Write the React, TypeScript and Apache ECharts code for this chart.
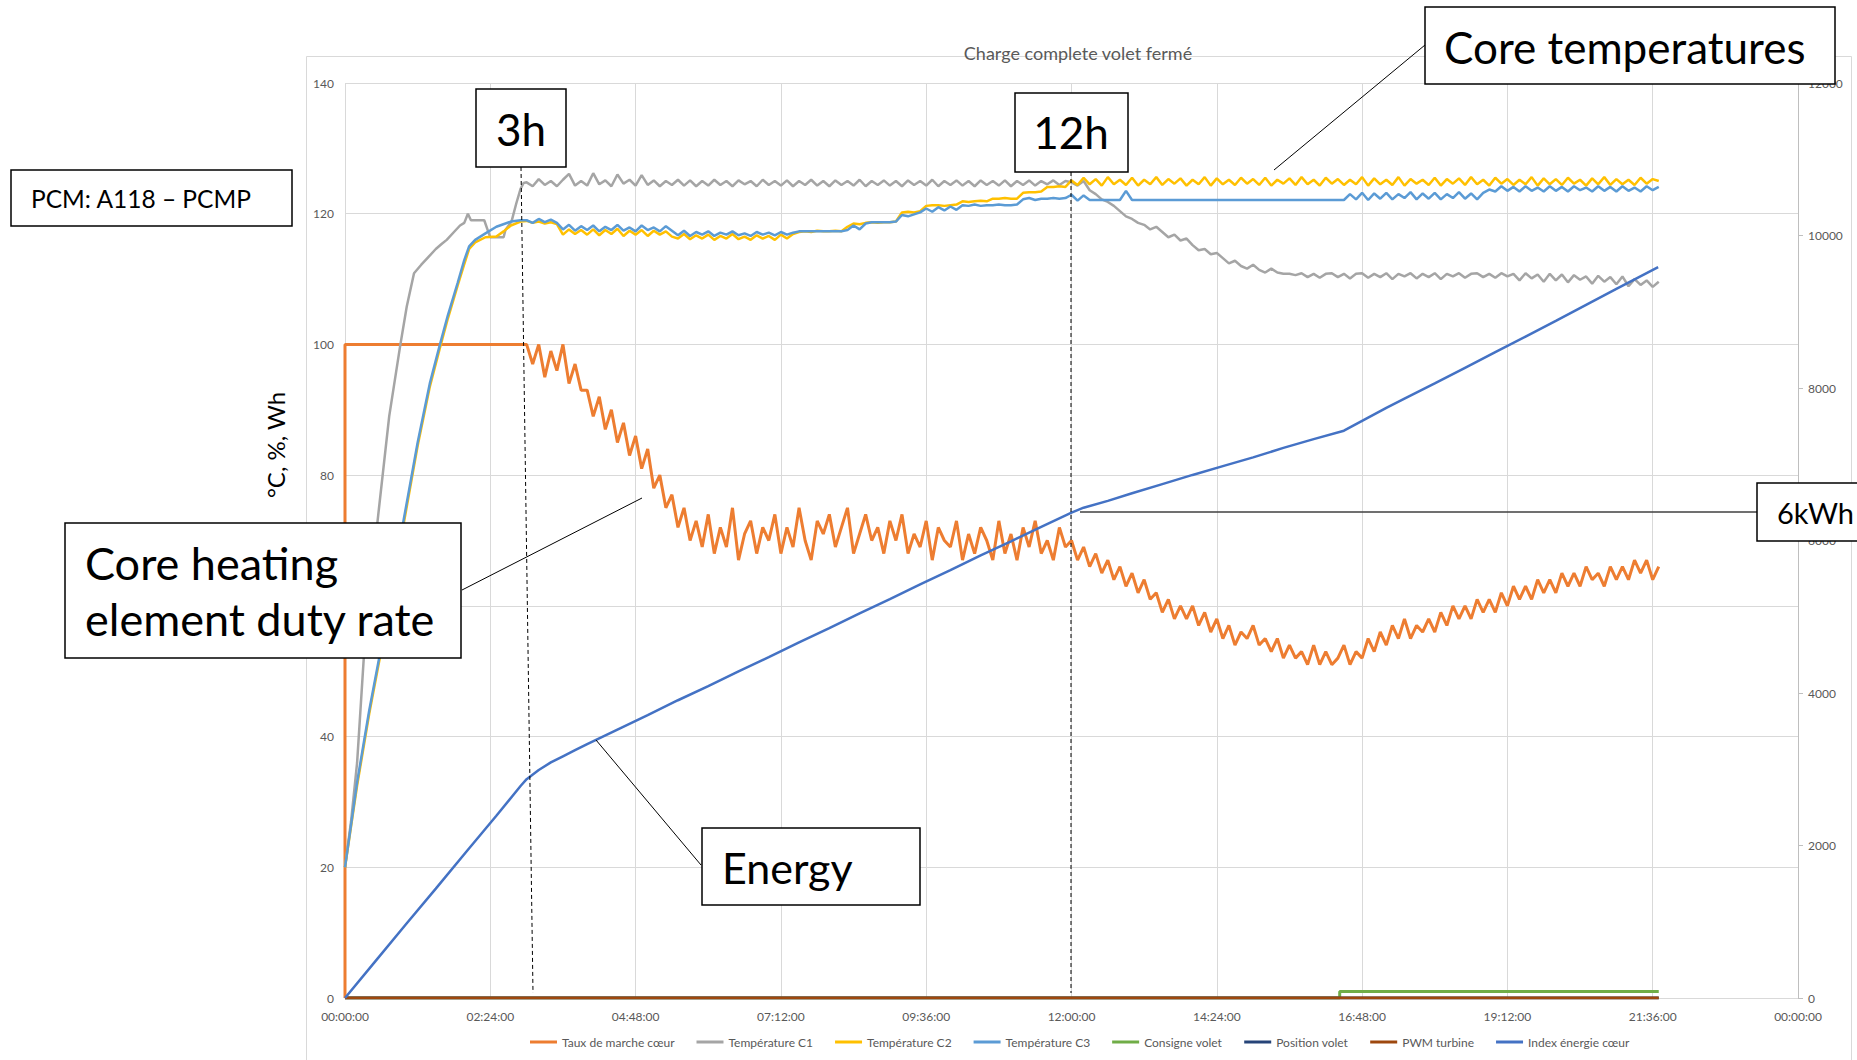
import React, { useEffect, useRef } from "react";
import * as echarts from "echarts";

// ---------- texts ----------
const TITLE = "Charge complete volet fermé";
const Y_NAME = "°C, %, Wh";
const X_TICK_LABELS = [
  "00:00:00", "02:24:00", "04:48:00", "07:12:00", "09:36:00", "12:00:00",
  "14:24:00", "16:48:00", "19:12:00", "21:36:00", "00:00:00",
];
const SERIES_NAMES = [
  "Taux de marche cœur", "Température C1", "Température C2", "Température C3",
  "Consigne volet", "Position volet", "PWM turbine", "Index énergie cœur",
];
const SERIES_COLORS = ["#ED7D31", "#A5A5A5", "#FFC000", "#5B9BD5", "#70AD47", "#264478", "#9E480E", "#4472C4"];

// ---------- data (time in hours) ----------
// noisy part of each record is sampled every 0.1 h from 3.0 h to 21.7 h
const NOISE_START = 3.0;
const NOISE_STEP = 0.1;

// Taux de marche cœur (%)
const dutyHead: [number, number][] = [[0, 0], [0, 100], [2.95, 100]];
const dutyNoisy = [
  100, 97, 100, 95, 99, 96, 100, 94, 97, 93,
  93, 89, 92, 87, 90, 85, 88, 83, 86, 81,
  84, 78, 80, 75, 77, 72, 75, 70, 73, 69,
  74, 68, 72, 69, 75, 67, 71, 73, 68, 72,
  70, 74, 68, 72, 69, 75, 70, 67, 73, 71,
  74, 69, 72, 75, 68, 71, 74, 70, 72, 68,
  73, 70, 74, 68, 71, 69, 73, 67, 72, 70,
  69, 73, 67, 71, 68, 72, 70, 67, 73, 68,
  71, 67, 72, 69, 73, 68, 70, 67, 72, 69,
  70, 67, 69, 66, 68, 65, 67, 64, 66, 63,
  65, 62, 64, 61, 62, 59, 61, 58, 60, 58,
  60, 57, 59, 56, 58, 55, 57, 54, 56, 55,
  57, 54, 55, 53, 55, 52, 54, 52, 53, 51,
  54, 51, 53, 51, 52, 54, 51, 53, 52, 55,
  53, 56, 54, 57, 55, 58, 55, 57, 56, 58,
  56, 59, 57, 60, 58, 60, 58, 61, 59, 61,
  59, 62, 60, 63, 61, 63, 61, 64, 62, 64,
  62, 65, 63, 65, 63, 66, 64, 65, 63, 66,
  64, 66, 64, 67, 65, 67, 64, 66,
];

// Température C1 (°C)
const c1Head: [number, number][] = [
  [0, 20], [0.1, 27], [0.2, 36], [0.31, 52], [0.42, 63], [0.55, 74], [0.73, 89], [0.91, 99.7],
  [1.02, 105.8], [1.14, 110.9], [1.26, 112.2], [1.38, 113.4], [1.5, 114.6], [1.6, 115.4],
  [1.68, 116], [1.8, 117.2], [1.9, 118.2], [1.97, 118.6], [2.03, 120], [2.08, 119], [2.3, 119],
  [2.36, 117.4], [2.4, 116.4], [2.62, 116.4], [2.65, 117.5], [2.75, 118.8], [2.83, 121.6],
  [2.9, 123.8], [2.95, 124.7],
];
const c1Noisy = [
  124.8, 124.2, 125.3, 124.4, 125.0, 124.2, 125.2, 126.1, 124.3, 125.0,
  124.3, 126.2, 124.5, 125.1, 124.2, 126.0, 124.6, 125.2, 124.3, 125.9,
  124.4, 125.1, 124.2, 125.0, 124.4, 125.2, 124.3, 125.1, 124.2, 125.0,
  124.3, 125.2, 124.4, 125.0, 124.2, 125.1, 124.5, 125.0, 124.2, 125.2,
  124.4, 125.0, 124.3, 125.1, 124.2, 125.0, 124.4, 125.2, 124.3, 125.0,
  124.2, 125.1, 124.4, 125.0, 124.3, 125.2, 124.2, 125.0, 124.4, 125.1,
  124.3, 125.0, 124.2, 125.1, 124.4, 125.0, 124.3, 125.2, 124.2, 125.0,
  124.4, 125.1, 124.3, 125.0, 124.2, 125.1, 124.4, 125.0, 124.3, 125.1,
  124.2, 125.0, 124.4, 125.1, 124.3, 125.0, 124.5, 125.1, 124.4, 125.0,
  124.8, 124.3, 125.0, 123.6, 123.0, 122.2, 121.8, 121.2, 120.4, 119.6,
  119.2, 118.6, 118.3, 117.6, 118.0, 117.2, 116.4, 116.8, 115.9, 116.2,
  115.2, 114.4, 114.6, 113.8, 114.0, 113.2, 112.4, 112.8, 112.0, 111.6,
  112.2, 111.4, 111.0, 111.6, 111.0, 110.8, 110.8, 110.6, 110.9, 110.3,
  110.8, 110.2, 110.8, 110.9, 110.3, 110.8, 110.1, 110.8, 110.9, 110.2,
  110.8, 110.3, 110.9, 110.0, 110.8, 110.4, 110.9, 110.1, 110.8, 110.3,
  110.9, 110.0, 110.8, 110.4, 110.9, 110.2, 110.8, 110.9, 110.3, 110.8,
  110.2, 110.9, 110.4, 110.8, 109.8, 110.9, 110.1, 110.7, 109.6, 110.8,
  109.8, 110.7, 109.5, 110.6, 109.9, 110.4, 109.3, 110.5, 109.6, 110.3,
  109.2, 110.4, 108.9, 110.0, 109.1, 109.8, 108.8, 109.6,
];

// Température C2 (°C)
const c2Head: [number, number][] = [
  [0, 20], [0.2, 32.5], [0.4, 43.5], [0.57, 51.8], [0.8, 63.5], [0.97, 72.6], [1.2, 84.5],
  [1.4, 93.5], [1.56, 99.2], [1.7, 104], [1.86, 109], [1.97, 112.3], [2.05, 114.6],
  [2.15, 115.6], [2.32, 116.4], [2.5, 116.5], [2.62, 117.3], [2.74, 118.2], [2.9, 118.8],
];
const c2Noisy = [
  118.9, 118.6, 118.8, 118.5, 118.7, 118.4, 116.8, 117.6, 116.9, 117.5,
  116.8, 117.6, 116.7, 117.5, 116.9, 117.7, 116.6, 117.4, 116.8, 117.5,
  116.6, 117.4, 116.8, 117.3, 116.5, 116.2, 116.9, 116.1, 116.7, 116.2,
  116.8, 116.0, 116.6, 116.2, 116.9, 116.1, 116.5, 116.0, 116.7, 116.2,
  116.6, 116.0, 116.8, 116.2, 116.9, 117.2, 117.3, 117.2, 117.4, 117.3,
  117.3, 117.4, 117.3, 118.0, 118.5, 118.4, 118.6, 118.7, 118.6, 118.7,
  118.7, 118.8, 120.2, 120.3, 120.2, 120.4, 121.2, 121.3, 121.3, 121.2,
  121.3, 121.4, 121.9, 121.8, 121.9, 122.0, 121.9, 122.3, 122.3, 122.4,
  122.3, 122.3, 123.2, 123.3, 123.3, 123.4, 124.1, 124.1, 124.2, 124.1,
  125.1, 124.4, 125.5, 124.5, 125.3, 124.3, 125.6, 124.5, 125.2, 124.4,
  125.5, 124.3, 125.2, 124.5, 125.6, 124.4, 125.3, 124.6, 125.4, 124.3,
  125.2, 124.5, 125.6, 124.3, 125.4, 124.5, 125.2, 124.4, 125.5, 124.6,
  125.3, 124.4, 125.5, 124.3, 125.2, 124.6, 125.4, 124.4, 125.6, 124.5,
  125.2, 124.3, 125.5, 124.6, 125.3, 124.4, 125.2, 124.5, 125.6, 124.3,
  125.4, 124.5, 125.2, 124.4, 125.6, 124.3, 125.3, 124.6, 125.2, 124.4,
  125.5, 124.3, 125.3, 124.6, 125.4, 124.4, 125.6, 124.5, 125.2, 124.3,
  125.5, 124.6, 125.3, 124.4, 125.2, 124.5, 125.6, 124.3, 125.4, 124.5,
  125.3, 124.4, 125.5, 124.6, 125.2, 124.3, 125.4, 124.5, 125.6, 124.4,
  125.3, 124.5, 125.2, 124.4, 125.5, 124.6, 125.3, 125.0,
];

// Température C3 (°C)
const c3Head: [number, number][] = [
  [0, 20], [0.2, 33], [0.4, 44], [0.57, 52.3], [0.8, 64], [0.97, 73.2], [1.2, 85], [1.4, 94],
  [1.56, 99.7], [1.7, 104.5], [1.86, 109.4], [1.97, 112.9], [2.05, 115], [2.15, 116],
  [2.32, 117], [2.5, 118], [2.74, 118.8], [2.9, 119],
];
const c3Noisy = [
  119.0, 118.6, 119.2, 118.7, 119.1, 118.6, 117.6, 118.3, 117.4, 118.1,
  117.5, 118.2, 117.3, 118.0, 117.5, 118.3, 117.4, 117.9, 117.3, 118.2,
  117.5, 117.9, 117.3, 118.1, 117.4, 116.7, 117.4, 116.6, 117.2, 116.8,
  117.3, 116.6, 117.1, 116.8, 117.3, 116.7, 117.0, 116.6, 117.2, 116.8,
  117.1, 116.7, 117.2, 116.8, 117.1, 117.3, 117.3, 117.3, 117.3, 117.3,
  117.3, 117.3, 117.3, 117.5, 118.2, 117.6, 118.5, 118.7, 118.7, 118.7,
  118.7, 118.8, 119.8, 119.6, 119.9, 120.2, 120.8, 120.3, 121.0, 120.5,
  121.1, 120.6, 121.3, 121.2, 121.4, 121.2, 121.3, 121.3, 121.4, 121.3,
  121.3, 121.4, 122.2, 122.4, 122.1, 122.3, 122.3, 122.4, 122.3, 122.4,
  122.9, 122.0, 122.8, 122.1, 122.1, 122.1, 122.1, 122.1, 122.1, 123.5,
  122.1, 122.1, 122.1, 122.1, 122.1, 122.1, 122.1, 122.1, 122.1, 122.1,
  122.1, 122.1, 122.1, 122.1, 122.1, 122.1, 122.1, 122.1, 122.1, 122.1,
  122.1, 122.1, 122.1, 122.1, 122.1, 122.1, 122.1, 122.1, 122.1, 122.1,
  122.1, 122.1, 122.1, 122.1, 122.1, 122.1, 123.0, 122.2, 123.2, 122.1,
  123.1, 122.3, 123.2, 122.2, 123.0, 122.4, 123.3, 122.2, 123.1, 122.3,
  123.2, 122.2, 123.0, 122.4, 123.3, 122.3, 123.1, 122.2, 123.2, 123.7,
  123.4, 124.2, 123.5, 124.1, 123.4, 124.2, 123.5, 124.0, 123.4, 124.2,
  123.5, 124.1, 123.4, 124.2, 123.6, 124.0, 123.4, 124.2, 123.5, 124.1,
  123.4, 124.2, 123.5, 124.0, 123.4, 124.2, 123.6, 124.1,
];

// Consigne volet, Position volet, PWM turbine
const shutterSetpoint: [number, number][] = [[0, 0], [16.43, 0], [16.43, 1], [21.7, 1]];
const shutterPosition: [number, number][] = [[0, 0], [21.7, 0]];
const pwmTurbine: [number, number][] = [[0, 0], [21.7, 0]];

// Index énergie cœur (Wh, right axis)
const energy: [number, number][] = [
  [0, 0], [0.5, 480], [1, 960], [1.5, 1435], [2, 1915], [2.5, 2390], [2.9, 2780], [3.0, 2870],
  [3.2, 2990], [3.4, 3090], [3.6, 3170], [3.8, 3250], [4.0, 3330], [4.5, 3520], [5, 3710],
  [5.5, 3905], [6, 4090], [6.5, 4285], [7, 4470], [7.5, 4665], [8, 4850], [8.5, 5045],
  [9, 5230], [9.5, 5425], [10, 5610], [10.5, 5805], [11, 5990], [11.5, 6180], [12, 6365],
  [12.2, 6430], [12.6, 6520], [13, 6620], [13.5, 6740], [14, 6860], [14.5, 6975], [15, 7090],
  [15.5, 7215], [16, 7330], [16.5, 7440], [16.8, 7570], [17.2, 7740], [17.5, 7860], [18, 8060],
  [18.5, 8265], [19, 8470], [19.5, 8675], [20, 8880], [20.5, 9090], [21, 9300], [21.69, 9585],
];

// ---------- helpers ----------
const withTimes = (vals: number[]): [number, number][] =>
  vals.map((v, i) => [Math.round((NOISE_START + i * NOISE_STEP) * 100) / 100, v]);

const FONT = "Lato";

function lineSeries(idx: number, data: [number, number][], width: number, yAxisIndex = 0) {
  return {
    name: SERIES_NAMES[idx],
    type: "line",
    yAxisIndex,
    data,
    showSymbol: false,
    symbol: "none",
    lineStyle: { color: SERIES_COLORS[idx], width },
    itemStyle: { color: SERIES_COLORS[idx] },
    emphasis: { disabled: true },
  };
}

function box(x: number, y: number, w: number, h: number) {
  return {
    type: "rect",
    silent: true,
    z: 100,
    shape: { x, y, width: w, height: h },
    style: { fill: "#ffffff", stroke: "#000000", lineWidth: 1.5 },
  };
}
function label(text: string, x: number, y: number, size: number, align = "left") {
  return {
    type: "text",
    silent: true,
    z: 101,
    x,
    y,
    style: { text, fill: "#000000", fontSize: size, fontFamily: FONT, align, verticalAlign: "middle" },
  };
}
function seg(x1: number, y1: number, x2: number, y2: number, color = "#000000", w = 1, dash?: number[]) {
  return {
    type: "line",
    silent: true,
    z: 99,
    shape: { x1, y1, x2, y2 },
    style: { stroke: color, lineWidth: w, lineDash: dash },
  };
}

export default function App() {
  const ref = useRef<HTMLDivElement>(null);

  useEffect(() => {
    if (!ref.current) return;
    const chart = echarts.init(ref.current, null, { renderer: "svg" });

    const option = {
      animation: false,
      backgroundColor: "#ffffff",
      textStyle: { fontFamily: FONT },
      grid: { left: 345, right: 59, top: 83, bottom: 62, containLabel: false },
      xAxis: {
        type: "value",
        min: 0,
        max: 24,
        interval: 2.4,
        axisLine: { show: true, onZero: true, lineStyle: { color: "#d9d9d9", width: 1 } },
        axisTick: { show: false },
        splitLine: { show: true, lineStyle: { color: "#d9d9d9", width: 1 } },
        axisLabel: {
          color: "#595959",
          fontSize: 12,
          fontFamily: FONT,
          margin: 12,
          formatter: (v: number) => X_TICK_LABELS[Math.round(v / 2.4)] ?? "",
        },
      },
      yAxis: [
        {
          type: "value",
          min: 0,
          max: 140,
          interval: 20,
          axisLine: { show: false },
          axisTick: { show: false },
          splitLine: { show: true, lineStyle: { color: "#d9d9d9", width: 1 } },
          axisLabel: { color: "#595959", fontSize: 12, fontFamily: FONT, margin: 11 },
        },
        {
          type: "value",
          min: 0,
          max: 12000,
          interval: 2000,
          position: "right",
          axisLine: { show: true, lineStyle: { color: "#bfbfbf", width: 1 } },
          axisTick: { show: true, length: 5, lineStyle: { color: "#bfbfbf" } },
          splitLine: { show: false },
          axisLabel: {
            color: "#595959",
            fontSize: 12,
            fontFamily: FONT,
            margin: 10,
            formatter: (v: number) => String(v),
          },
        },
      ],
      legend: {
        left: 530,
        top: 1036,
        padding: 0,
        icon: "rect",
        itemWidth: 27,
        itemHeight: 3,
        itemGap: 22,
        selectedMode: false,
        textStyle: { color: "#595959", fontSize: 12, fontFamily: FONT },
        data: SERIES_NAMES,
      },
      series: [
        lineSeries(0, [...dutyHead, ...withTimes(dutyNoisy)], 3),
        lineSeries(1, [...c1Head, ...withTimes(c1Noisy)], 2.5),
        lineSeries(2, [...c2Head, ...withTimes(c2Noisy)], 2.5),
        lineSeries(3, [...c3Head, ...withTimes(c3Noisy)], 2.5),
        lineSeries(4, shutterSetpoint, 3),
        lineSeries(5, shutterPosition, 3),
        lineSeries(6, pwmTurbine, 3),
        lineSeries(7, energy, 2.5, 1),
      ],
      graphic: [
        // chart area border
        {
          type: "rect",
          silent: true,
          z: -10,
          shape: { x: 306.5, y: 56.5, width: 1545, height: 1100 },
          style: { fill: "none", stroke: "#d9d9d9", lineWidth: 1 },
        },
        // chart title
        {
          type: "text",
          silent: true,
          x: 1078,
          y: 53,
          style: { text: TITLE, fill: "#595959", fontSize: 18, fontFamily: FONT, align: "center", verticalAlign: "middle" },
        },
        // y axis name
        {
          type: "text",
          silent: true,
          x: 275,
          y: 445,
          rotation: Math.PI / 2,
          style: { text: Y_NAME, fill: "#000000", fontSize: 24, fontFamily: FONT, align: "center", verticalAlign: "middle" },
        },
        // dashed markers
        seg(521, 167, 533, 993, "#000000", 1, [4, 3]),
        seg(1071, 172, 1071, 993, "#000000", 1, [4, 3]),
        // leader lines
        seg(1425, 45, 1274, 170),
        seg(462, 590, 642, 498),
        seg(701, 865, 596, 740),
        seg(1080, 512, 1757, 512, "#404040", 1.5),
        // boxes
        box(11, 170, 281, 56),
        label("PCM: A118 – PCMP", 31, 198, 24.5),
        box(476, 89, 90, 78),
        label("3h", 521, 129, 44, "center"),
        box(1015, 93, 113, 79),
        label("12h", 1071, 132, 44, "center"),
        box(1425, 7, 410, 77),
        label("Core temperatures", 1444, 47, 44),
        box(65, 523, 396, 135),
        label("Core heating", 85, 563, 45),
        label("element duty rate", 85, 619, 45),
        box(702, 828, 218, 77),
        label("Energy", 722, 867, 43),
        box(1757, 483, 110, 58),
        label("6kWh", 1777, 512, 29),
      ],
    };

    chart.setOption(option as any);
    return () => chart.dispose();
  }, []);

  return (
    <div
      ref={ref}
      style={{ position: "absolute", left: 0, top: 0, width: 1857, height: 1060, background: "#ffffff" }}
    />
  );
}
